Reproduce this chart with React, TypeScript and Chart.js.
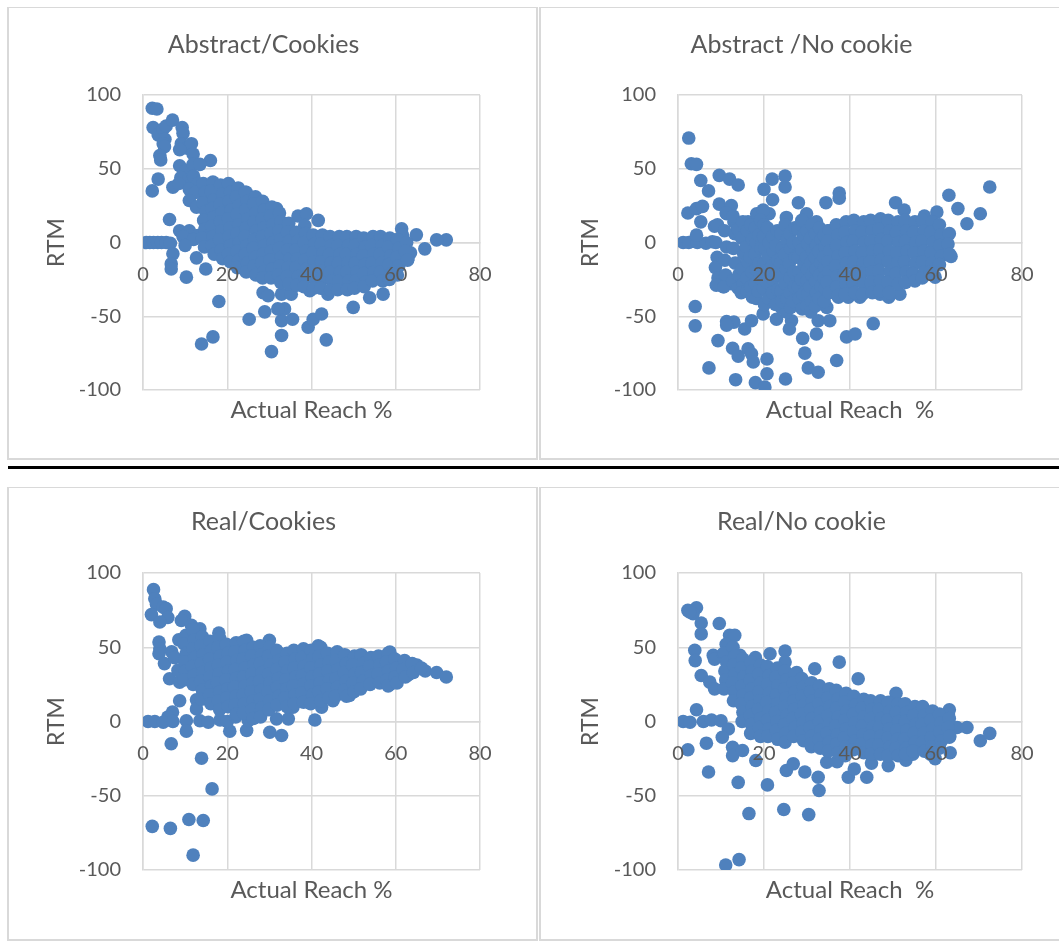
import React, { useEffect, useRef } from "react";
import { Chart, registerables } from "chart.js";

Chart.register(...registerables);

// ---------- data (x = Actual Reach %, y = RTM) ----------
const X_TICK_STEP = 20;
const Y_TICK_STEP = 50;
const X_RANGE = [0, 80];
const Y_RANGE = [-100, 100];

const TITLES = ["Abstract/Cookies", "Abstract /No cookie", "Real/Cookies", "Real/No cookie"];
const X_TITLES = ["Actual Reach %", "Actual Reach  %", "Actual Reach %", "Actual Reach  %"];
const Y_TITLE = "RTM";

const abstractCookiesEdge: [number, number][] = [
  [2.2,91],[3.3,90.5],[2.4,78],[3.6,73],[4.8,77],[5.5,79],[7.0,83],[9.3,78],[9.5,74],[5.2,70],[4.8,67],[5.1,65],[4.0,59],[4.2,56],
  [9.1,67],[10.5,64],[11.5,67],[8.7,63],[11.9,60],[16,55.6],[3.6,43],[2.2,35],[7.1,37.5],[8.7,52],[10.3,49],[11.9,53],[13.5,53],
  [9.0,44],[10.5,42],[12.0,45],[13.0,40],[8.5,40],[11,36],[12.5,34],[15.5,36],[15,31],[11,28.5],[12.7,24],[6.3,15.6],[24.5,34],
  [27.3,28.5],[31.7,23],[0.8,0],[1.6,0],[2.5,0],[3.5,0],[4.4,0],[5.5,0],[6.5,-0.5],[8.7,8],[11,8],[13,4.7],[9.5,4],[12,2],[10,-2],
  [7.1,-7.7],[6.7,-14.5],[6.7,-18],[12.7,-10.4],[10.3,-23.5],[14.9,-18],[18,-40],[13.9,-68.8],[16.6,-64],[25.2,-52],[28.9,-47],
  [28.5,-34],[29.7,-36],[30.5,-74],[32.9,-63],[32.9,-53],[33.6,-45],[32,-45],[32.9,-35],[35.2,-35],[35.5,-52],[39.2,-57.5],
  [40.4,-52],[42.4,-48.5],[43.5,-66],[49.9,-44],[53.8,-37.5],[57,-35],[39.6,-32.6],[43.9,-35],[36.8,18],[38.8,19.5],[41.6,15],
  [38.4,11.5],[61.4,9.3],[61.6,5],[64.9,5.2],[66.9,-4.3],[72,1.8],[69.7,1.8],[62.9,-11],[63.5,-7]
];
const abstractCookiesCore: [number, number][] = [
  [14.3,40],[14.8,34],[14.2,27],[14.9,21],[14.4,15],[14.7,9],[14.1,3],[14.6,-3],
  [16.6,41],[16.2,35],[16.9,29],[16.4,23],[16.8,17],[16.3,11],[16.7,4],[16.4,-2],[16.9,-8],
  [18.4,39],[18.9,33],[18.3,26],[18.7,20],[18.4,14],[18.8,8],[18.2,2],[18.6,-5],[18.9,-11],
  [20.3,40],[20.8,34],[20.4,28],[20.9,22],[20.3,16],[20.7,10],[20.4,4],[20.8,-2],[20.3,-8],[20.7,-13],
  [22.6,37],[22.2,31],[22.8,25],[22.3,19],[22.7,12],[22.4,6],[22.9,0],[22.3,-6],[22.7,-12],[22.4,-17],
  [24.3,34],[24.8,28],[24.4,22],[24.9,16],[24.5,10],[24.2,4],[24.7,-2],[24.3,-8],[24.8,-14],[24.5,-20],
  [26.7,31],[26.3,26],[26.8,20],[26.4,14],[26.9,8],[26.5,2],[26.2,-4],[26.7,-10],[26.4,-16],[26.8,-22],
  [28.4,28],[28.8,22],[28.3,16],[28.7,10],[28.4,4],[28.9,-2],[28.5,-8],[28.2,-14],[28.7,-20],[28.4,-24],
  [30.6,24],[30.3,18],[30.8,12],[30.4,6],[30.9,0],[30.5,-6],[30.2,-12],[30.7,-18],[30.4,-24],
  [32.4,20],[32.8,14],[32.3,8],[32.7,2],[32.4,-4],[32.9,-10],[32.5,-16],[32.2,-22],[32.7,-27],
  [34.6,13],[34.3,7],[34.8,1],[34.4,-5],[34.9,-11],[34.5,-17],[34.2,-23],[34.7,-28],
  [36.4,7],[36.8,1],[36.3,-5],[36.7,-11],[36.4,-17],[36.9,-23],[36.5,-29],
  [38.6,6],[38.3,0],[38.8,-6],[38.4,-12],[38.9,-18],[38.5,-24],[38.2,-30],
  [40.4,5],[40.8,-1],[40.3,-7],[40.7,-13],[40.4,-19],[40.9,-25],[40.5,-31],
  [42.6,5],[42.3,-1],[42.8,-7],[42.4,-13],[42.9,-19],[42.5,-25],[42.2,-31],
  [44.4,4],[44.8,-2],[44.3,-8],[44.7,-14],[44.4,-20],[44.9,-26],[44.5,-32],
  [46.6,4],[46.3,-2],[46.8,-8],[46.4,-14],[46.9,-20],[46.5,-26],[46.2,-32],
  [48.4,4],[48.8,-2],[48.3,-8],[48.7,-14],[48.4,-20],[48.9,-26],[48.5,-32],
  [50.6,4],[50.3,-2],[50.8,-8],[50.4,-14],[50.9,-20],[50.5,-26],[50.2,-31],
  [52.4,3],[52.8,-3],[52.3,-9],[52.7,-15],[52.4,-21],[52.9,-27],[52.5,-30],
  [54.6,4],[54.3,-2],[54.8,-8],[54.4,-14],[54.9,-20],[54.5,-26],
  [56.4,4],[56.8,-2],[56.3,-8],[56.7,-14],[56.4,-20],[56.9,-26],
  [58.6,3],[58.3,-3],[58.8,-9],[58.4,-15],[58.9,-21],[58.5,-25],
  [60.4,2],[60.8,-4],[60.3,-10],[60.7,-16],[60.4,-22],
  [62.6,0],[62.3,-6],[62.8,-12]
];

const abstractNoCookieEdge: [number, number][] = [
  [2.5,70.8],[3.1,53.4],[4.3,53],[5.3,42],[7.1,35],[9.6,45.5],[12,43],[14,39],[20,36],[21.9,43],[24.9,45],[24.9,37.6],[22,29],
  [21.2,19.5],[28,27],[34.4,27],[37.5,33.5],[37.5,30],[2.3,20],[4.3,23],[5.7,24.5],[5.3,14],[8.5,11],[9.6,26],[12.4,25],[11.3,19.5],
  [13,14],[16.3,14],[18.3,19.5],[19.8,22],[25.2,17],[29.9,19.5],[32.2,14],[34.8,8],[50.6,27],[52.6,22],[57.3,18],[60.2,20.6],
  [63,32],[65.1,23],[67.2,12.7],[70.3,19.5],[72.5,37.6],[63.5,-9.5],[1.2,0],[2.5,0],[4.5,0],[6.5,-0.5],[8,0.5],[4.3,5],
  [12.4,-28],[10.5,-30],[4,-43.4],[4,-56.5],[9.3,-66.5],[7.2,-85],[11.3,-53.6],[13,-54],[11.3,-56],[12.7,-71.7],[14,-77],
  [16.3,-72],[17.1,-75.5],[17.5,-81],[13.4,-93],[18,-95],[20.2,-98],[20.7,-79],[20.7,-89],[25,-92.5],[15.5,-58.6],[17.1,-53],
  [19.8,-48.4],[22.9,-52],[26.4,-53],[25.9,-58.6],[29,-65],[29.5,-75],[30.3,-85],[32.6,-88],[32.2,-62],[32.6,-53],[35.3,-53],
  [36.9,-80],[39.2,-64],[41.2,-62],[45.4,-55],[34.6,-44],[29.9,-44],[28.7,-40.5],[24,-44],[25.2,-47],[51.6,-35],[59.8,-23.5],
  [47,-35],[49,-37],[37.3,-37],[39.6,-37],[42.3,-37]
];
const abstractNoCookieCore: [number, number][] = [
  [9.2,12],[8.8,0],[9.1,-10],[8.7,-17],[9.3,-24],[8.9,-29],
  [11.2,20],[10.8,8],[11.3,-3],[10.9,-12],[11.1,-22],[10.7,-30],
  [12.8,18],[13.2,6],[12.9,-4],[13.3,-14],[12.7,-26],
  [14,9],[14.1,-22],[14,-31],
  [15.1,14],[14.8,3],[15.3,-8],[14.9,-18],[15.2,-28],[14.7,-34],
  [16.1,8],[15.9,-3],[16.2,-13],[16,-24],[16.1,-33],
  [16.9,12],[17.3,2],[16.8,-10],[17.2,-20],[16.9,-30],[17.3,-37],
  [18,10],[18.2,0],[17.9,-8],[18.1,-18],[18,-28],[18.2,-38],
  [19.2,15],[18.8,5],[19.3,-4],[18.9,-14],[19.1,-24],[18.7,-33],
  [20,12],[19.9,4],[20.2,-4],[20,-14],[20.1,-22],[19.9,-31],[20.1,-42],
  [20.8,10],[21.2,0],[20.9,-9],[21.3,-18],[20.7,-27],[21.1,-38],
  [22,4],[22.2,-6],[21.9,-16],[22.1,-25],[22,-34],
  [23.1,8],[22.8,-2],[23.3,-12],[22.9,-22],[23.2,-32],[22.7,-42],
  [24,6],[24.2,-4],[23.9,-14],[24.1,-23],[24,-33],[24.2,-40],
  [24.9,12],[25.3,2],[24.8,-8],[25.2,-18],[24.9,-28],[25.3,-38],
  [26,6],[26.2,-4],[25.9,-14],[26.1,-24],[26,-34],[26.2,-44],
  [27.2,10],[26.8,0],[27.3,-10],[26.9,-20],[27.1,-30],[26.7,-40],
  [28,9],[28.2,0],[27.9,-10],[28.1,-20],[28,-30],[28.2,-38],
  [28.8,15],[29.2,5],[28.9,-5],[29.3,-15],[28.7,-25],[29.1,-35],[28.9,-45],
  [30,8],[30.2,-1],[29.9,-10],[30.1,-18],[30,-26],[30.2,-35],[30,-43],
  [31.1,12],[30.8,3],[31.3,-6],[30.9,-14],[31.2,-22],[30.7,-30],[31.1,-40],[30.9,-47],
  [32,6],[32.2,-2],[31.9,-10],[32.1,-18],[32,-26],[32.2,-34],[32,-43],
  [32.9,10],[33.3,2],[32.8,-6],[33.2,-14],[32.9,-22],[33.3,-30],[32.8,-38],
  [34,5],[34.2,-3],[33.9,-10],[34.1,-17],[34,-24],[34.2,-31],[34,-40],
  [35.2,8],[34.8,1],[35.3,-6],[34.9,-13],[35.1,-20],[34.7,-27],[35.2,-34],
  [36.8,12],[37.2,5],[36.9,-2],[37.3,-9],[36.7,-16],[37.1,-23],[36.9,-30],[37.2,-36],
  [39.1,14],[38.8,7],[39.3,0],[38.9,-7],[39.2,-14],[38.7,-21],[39.1,-28],[38.9,-35],
  [40.9,15],[41.3,8],[40.8,1],[41.2,-6],[40.9,-13],[41.3,-20],[40.8,-27],[41.1,-34],
  [43.2,14],[42.8,7],[43.3,0],[42.9,-7],[43.1,-14],[42.7,-21],[43.2,-28],[42.9,-35],
  [44.8,15],[45.2,8],[44.9,1],[45.3,-6],[44.7,-13],[45.1,-20],[44.9,-27],[45.2,-34],
  [47.1,16],[46.8,9],[47.3,2],[46.9,-5],[47.2,-12],[46.7,-19],[47.1,-26],[46.9,-33],
  [48.9,15],[49.3,8],[48.8,1],[49.2,-6],[48.9,-13],[49.3,-20],[48.8,-27],[49.1,-34],
  [51.2,14],[50.8,7],[51.3,0],[50.9,-7],[51.1,-14],[50.7,-21],[51.2,-28],
  [52.8,15],[53.2,8],[52.9,1],[53.3,-6],[52.7,-13],[53.1,-20],[52.9,-27],
  [55.1,14],[54.8,7],[55.3,0],[54.9,-7],[55.2,-14],[54.7,-21],[55.1,-26],
  [56.9,15],[57.3,8],[56.8,1],[57.2,-6],[56.9,-13],[57.3,-20],[56.8,-24],
  [59.2,14],[58.8,7],[59.3,0],[58.9,-7],[59.1,-14],[58.7,-20],
  [60.8,12],[61.2,5],[60.9,-2],[61.3,-9],[60.8,-15],
  [63.1,6],[62.8,-1],[63.2,-8]
];

const realCookiesEdge: [number, number][] = [
  [2.5,88.8],[2.8,82.7],[3.2,79],[2,72],[4.8,77],[5.5,76],[5.9,70],[4,67],[9.9,70.8],[9.1,68],[11.5,64.7],[13.5,62.5],[18,59.6],
  [3.8,53.5],[4,49],[3.8,45.6],[5.1,39],[6.8,47],[8.5,55],[7.5,43],[6.3,28.8],[8.7,26.5],[8.3,34.4],[8.7,14],[12.7,14.6],
  [12.7,8.5],[7,6.3],[5.9,3],[1.2,0],[2.8,0],[4.8,-0.5],[7.1,0],[10.3,0.5],[13.5,0.5],[15.5,-0.5],[18.3,1],[10.3,-6.5],[6.7,-15],
  [13.9,-24.7],[16.4,-45.4],[2.2,-70.6],[6.5,-72],[10.9,-66],[14.3,-66.7],[11.9,-90],[20.6,-6.5],[24.6,-6],[30.1,-7.2],
  [32.9,-9.4],[31.7,1.8],[34.5,1.8],[40.8,1],[25,0.7],[28,5],[35.6,9.7],[37.2,14],[42.4,9.7],[45.1,14],[49,17.5],[30,54.6],
  [31.7,47.9],[24.6,54.6],[41.6,51],[58.6,46.7],[58.6,25],[63,31.5],[67,34],[69.7,33],[72,30],[65,38],[20,0],[22,3]
];
const realCookiesCore: [number, number][] = [
  [10.2,58],[9.8,52],[10.3,46],[9.9,40],[10.1,34],[9.7,28],
  [11.8,62],[12.2,55],[11.9,49],[12.3,43],[11.7,37],[12.1,31],[11.9,25],
  [14.1,57],[13.8,51],[14.3,45],[13.9,39],[14.2,33],[13.7,27],[14.1,21],[13.9,15],
  [15.9,54],[16.3,48],[15.8,42],[16.2,36],[15.9,30],[16.3,24],[15.8,18],[16.1,12],
  [18.2,56],[17.8,50],[18.3,44],[17.9,38],[18.1,32],[17.7,26],[18.2,20],[17.9,14],[18.2,8],
  [19.8,52],[20.2,46],[19.9,40],[20.3,34],[19.7,28],[20.1,22],[19.9,16],[20.2,10],
  [22.1,53],[21.8,47],[22.3,41],[21.9,35],[22.2,29],[21.7,23],[22.1,17],[21.9,11],[22.2,5],
  [23.9,54],[24.3,48],[23.8,42],[24.2,36],[23.9,30],[24.3,24],[23.8,18],[24.1,12],[23.9,6],
  [26.2,50],[25.8,44],[26.3,38],[25.9,32],[26.1,26],[25.7,20],[26.2,14],[25.9,8],[26.2,2],
  [27.8,51],[28.2,45],[27.9,39],[28.3,33],[27.7,27],[28.1,21],[27.9,15],[28.2,9],[27.9,3],
  [30.1,50],[29.8,44],[30.3,38],[29.9,32],[30.2,26],[29.7,20],[30.1,14],[29.9,8],
  [31.9,47],[32.3,41],[31.8,35],[32.2,29],[31.9,23],[32.3,17],[31.8,11],
  [34.2,46],[33.8,40],[34.3,34],[33.9,28],[34.1,22],[33.7,16],[34.2,10],
  [35.8,48],[36.2,42],[35.9,36],[36.3,30],[35.7,24],[36.1,18],[35.9,12],
  [38.1,49],[37.8,43],[38.3,37],[37.9,31],[38.2,25],[37.7,19],[38.1,13],
  [39.9,48],[40.3,42],[39.8,36],[40.2,30],[39.9,24],[40.3,18],[39.8,12],
  [42.2,50],[41.8,44],[42.3,38],[41.9,32],[42.1,26],[41.7,20],[42.2,14],
  [43.8,46],[44.2,40],[43.9,34],[44.3,28],[43.7,22],[44.1,16],
  [46.1,47],[45.8,41],[46.3,35],[45.9,29],[46.2,23],[45.7,17],
  [47.9,45],[48.3,39],[47.8,33],[48.2,27],[47.9,21],[48.3,17],
  [50.2,44],[49.8,38],[50.3,32],[49.9,26],[50.1,20],
  [51.8,45],[52.2,39],[51.9,33],[52.3,27],[51.7,22],
  [54.1,43],[53.8,37],[54.3,31],[53.9,25],
  [55.9,44],[56.3,38],[55.8,32],[56.2,26],
  [58.2,46],[57.8,40],[58.3,34],[57.9,28],[58.2,24],
  [59.8,42],[60.2,36],[59.9,30],[60.3,26],
  [62.1,41],[61.8,35],[62.3,30],
  [63.9,39],[64.2,33],
  [66.1,36]
];

const realNoCookieEdge: [number, number][] = [
  [2.3,74.8],[4.3,76.6],[3.5,72.6],[2.7,73.7],[5.4,66.3],[5.4,59],[3.9,48],[4,41],[9.6,66],[12,58],[13.2,58],[5.4,31],[7.4,26.5],
  [8.5,22],[8.2,44.5],[8.5,42],[10.5,45.6],[14.4,44.5],[18,43],[21.4,45.6],[24.9,47.4],[24.9,40],[24.5,32],[27.6,33],[31.8,35.5],
  [37.5,40],[41.9,28.8],[50.7,19],[63.1,7.9],[4.3,7.9],[1.2,0],[2.8,-0.5],[5.9,0],[7.8,1],[10,0.5],[11.7,-5],[10.3,-10.6],
  [2.3,-19],[6.6,-14.6],[7.1,-34],[12.7,-17.3],[12.7,-23],[15,-19.5],[14,-41],[18.1,-26.3],[20.8,-42.7],[16.5,-62],[24.6,-59.3],
  [30.4,-62.7],[11.1,-96.6],[14.2,-93],[25.2,-33],[26.8,-28.5],[29.5,-34],[32.6,-37.5],[32.8,-46.5],[31,-17],[29,-7],[35.3,-17],
  [34.6,-27.4],[39.6,-37.5],[43.9,-37.5],[48.9,-29.7],[53,-26],[54.6,-22],[59.8,-25],[63.3,-21],[64.9,-4],[67.2,-4],[70.3,-13],
  [72.5,-8],[63.1,-10.6],[62.9,5],[37,-27],[41,-32],[45,-28]
];
const realNoCookieCore: [number, number][] = [
  [11.2,52],[10.8,46],[11.3,40],[10.9,34],[11.1,28],[10.7,22],
  [12.8,50],[13.2,44],[12.9,38],[13.3,32],[12.7,26],[13.1,20],[12.9,14],
  [15.1,42],[14.8,36],[15.3,30],[14.9,24],[15.2,18],[14.7,12],[15.1,6],[14.9,0],
  [16.9,40],[17.3,34],[16.8,28],[17.2,22],[16.9,16],[17.3,10],[16.8,4],[17.1,-2],[16.9,-8],
  [19.2,38],[18.8,32],[19.3,26],[18.9,20],[19.1,14],[18.7,8],[19.2,2],[18.9,-4],[19.2,-10],
  [20.8,37],[21.2,31],[20.9,25],[21.3,19],[20.7,13],[21.1,7],[20.9,1],[21.2,-5],[20.9,-10],
  [23.1,36],[22.8,30],[23.3,24],[22.9,18],[23.2,12],[22.7,6],[23.1,0],[22.9,-6],[23.2,-12],
  [24.9,34],[25.3,28],[24.8,22],[25.2,16],[24.9,10],[25.3,4],[24.8,-2],[25.1,-8],[24.9,-14],
  [27.2,32],[26.8,26],[27.3,20],[26.9,14],[27.1,8],[26.7,2],[27.2,-4],[26.9,-10],
  [28.8,29],[29.2,23],[28.9,17],[29.3,11],[28.7,5],[29.1,-1],[28.9,-7],[29.2,-13],
  [31.1,26],[30.8,20],[31.3,14],[30.9,8],[31.2,2],[30.7,-4],[31.1,-10],[30.9,-15],
  [32.9,24],[33.3,18],[32.8,12],[33.2,6],[32.9,0],[33.3,-6],[32.8,-12],[33.1,-18],
  [35.2,22],[34.8,16],[35.3,10],[34.9,4],[35.1,-2],[34.7,-8],[35.2,-14],[34.9,-20],
  [36.8,21],[37.2,15],[36.9,9],[37.3,3],[36.7,-3],[37.1,-9],[36.9,-15],[37.2,-21],
  [39.1,19],[38.8,13],[39.3,7],[38.9,1],[39.2,-5],[38.7,-11],[39.1,-17],[38.9,-23],
  [40.9,17],[41.3,11],[40.8,5],[41.2,-1],[40.9,-7],[41.3,-13],[40.8,-19],
  [43.2,15],[42.8,9],[43.3,3],[42.9,-3],[43.1,-9],[42.7,-15],[43.2,-21],
  [44.8,14],[45.2,8],[44.9,2],[45.3,-4],[44.7,-10],[45.1,-16],[44.9,-22],
  [47.1,14],[46.8,8],[47.3,2],[46.9,-4],[47.2,-10],[46.7,-16],[47.1,-22],
  [48.9,13],[49.3,7],[48.8,1],[49.2,-5],[48.9,-11],[49.3,-17],[48.8,-23],
  [51.2,12],[50.8,6],[51.3,0],[50.9,-6],[51.1,-12],[50.7,-18],[51.2,-23],
  [52.8,12],[53.2,6],[52.9,0],[53.3,-6],[52.7,-12],[53.1,-18],[52.9,-22],
  [55.1,10],[54.8,4],[55.3,-2],[54.9,-8],[55.2,-14],[54.7,-20],
  [56.9,10],[57.3,4],[56.8,-2],[57.2,-8],[56.9,-14],[57.3,-20],
  [59.2,7],[58.8,1],[59.3,-5],[58.9,-11],[59.1,-17],[58.7,-22],
  [60.8,5],[61.2,-1],[60.9,-7],[61.3,-13],[60.8,-18],
  [63.1,2],[62.8,-4],[63.2,-10]
];

const SERIES = [
  [abstractCookiesEdge, abstractCookiesCore],
  [abstractNoCookieEdge, abstractNoCookieCore],
  [realCookiesEdge, realCookiesCore],
  [realNoCookieEdge, realNoCookieCore],
];

// ---------- styles / layout ----------
const FONT = "Lato, 'Open Sans', sans-serif";
const TEXT = "#595959";
const GRID = "#D9D9D9";
const DOT = "#4F81BD";

type Layout = {
  box: { left: number; top: number; width: number; height: number };
  canvas: { left: number; top: number; width: number; height: number };
  padL: number; padR: number; padB: number;
  yWidth: number;
  titlePad: { top: number; bottom: number };
  subPad: { top: number; bottom: number };
};

const LAYOUTS: Layout[] = [
  { box: { left: 7, top: 7, width: 531, height: 453 }, canvas: { left: 9, top: 8, width: 509, height: 450 },
    padL: 38, padR: 38, padB: 33.4, yWidth: 96, titlePad: { top: 22.3, bottom: 34.7 }, subPad: { top: 5.8, bottom: 0 } },
  { box: { left: 539, top: 7, width: 600, height: 453 }, canvas: { left: 541, top: 8, width: 521, height: 450 },
    padL: 40, padR: 40, padB: 33.4, yWidth: 97, titlePad: { top: 22.3, bottom: 34.7 }, subPad: { top: 5.8, bottom: 0 } },
  { box: { left: 7, top: 487, width: 531, height: 454 }, canvas: { left: 9, top: 488, width: 509, height: 452 },
    padL: 38, padR: 38, padB: 35.6, yWidth: 96, titlePad: { top: 19, bottom: 36 }, subPad: { top: 5.6, bottom: 0 } },
  { box: { left: 539, top: 487, width: 600, height: 454 }, canvas: { left: 541, top: 488, width: 521, height: 452 },
    padL: 40, padR: 40, padB: 35.6, yWidth: 97, titlePad: { top: 19, bottom: 36 }, subPad: { top: 5.6, bottom: 0 } },
];

function Panel({ index }: { index: number }) {
  const ref = useRef<HTMLCanvasElement>(null);
  const L = LAYOUTS[index];
  useEffect(() => {
    if (!ref.current) return;
    const [edge, core] = SERIES[index];
    const points = [...edge, ...core].map(([x, y]) => ({ x, y }));
    const chart = new Chart(ref.current, {
      type: "scatter",
      data: {
        datasets: [
          {
            data: points,
            backgroundColor: DOT,
            borderColor: DOT,
            borderWidth: 0,
            pointRadius: 6.8,
            pointHoverRadius: 6.8,
          },
        ],
      },
      options: {
        animation: false,
        responsive: false,
        events: [],
        layout: { padding: { left: L.padL, right: L.padR, top: 0, bottom: L.padB } },
        plugins: {
          legend: { display: false },
          tooltip: { enabled: false },
          title: {
            display: true,
            text: TITLES[index],
            color: TEXT,
            font: { family: FONT, size: 25, weight: "normal", lineHeight: 1.2 },
            padding: L.titlePad,
          },
          subtitle: {
            display: true,
            text: X_TITLES[index],
            position: "bottom",
            fullSize: false,
            color: TEXT,
            font: { family: FONT, size: 24, weight: "normal", lineHeight: 1.2 },
            padding: L.subPad,
          },
        },
        scales: {
          x: {
            type: "linear",
            position: { y: 0 },
            min: X_RANGE[0],
            max: X_RANGE[1],
            ticks: {
              stepSize: X_TICK_STEP,
              color: TEXT,
              font: { family: FONT, size: 20 },
              padding: 20,
              z: 1,
              maxRotation: 0,
              autoSkip: false,
            },
            grid: { color: GRID, lineWidth: 1.5, drawTicks: false },
            border: { color: GRID, width: 1.5 },
          },
          y: {
            type: "linear",
            position: "left",
            min: Y_RANGE[0],
            max: Y_RANGE[1],
            ticks: {
              stepSize: Y_TICK_STEP,
              color: TEXT,
              font: { family: FONT, size: 20 },
              padding: 22,
            },
            grid: { color: GRID, lineWidth: 1.5, drawTicks: false },
            border: { color: GRID, width: 1.5 },
            title: {
              display: true,
              text: Y_TITLE,
              color: TEXT,
              font: { family: FONT, size: 23, lineHeight: 0.8 },
              padding: { top: 0.8, bottom: 0 },
            },
            afterFit: (s: any) => {
              s.width = L.yWidth;
            },
          },
        },
      } as any,
    });
    return () => chart.destroy();
  }, [index]);

  return (
    <>
      <div
        style={{
          position: "absolute",
          left: L.box.left,
          top: L.box.top,
          width: L.box.width,
          height: L.box.height,
          boxSizing: "border-box",
          borderTop: `1px solid ${GRID}`,
          borderLeft: `2px solid ${GRID}`,
          borderRight: `2px solid ${GRID}`,
          borderBottom: `2px solid ${GRID}`,
          background: "#fff",
        }}
      />
      <canvas
        ref={ref}
        width={L.canvas.width}
        height={L.canvas.height}
        style={{
          position: "absolute",
          left: L.canvas.left,
          top: L.canvas.top,
          width: L.canvas.width,
          height: L.canvas.height,
        }}
      />
    </>
  );
}

export default function App() {
  return (
    <div
      style={{
        position: "absolute",
        left: 0,
        top: 0,
        width: 1059,
        height: 943,
        overflow: "hidden",
        background: "#fff",
      }}
    >
      {[0, 1, 2, 3].map((i) => (
        <Panel key={i} index={i} />
      ))}
      <div style={{ position: "absolute", left: 8, top: 466, width: 1051, height: 3, background: "#000" }} />
    </div>
  );
}
